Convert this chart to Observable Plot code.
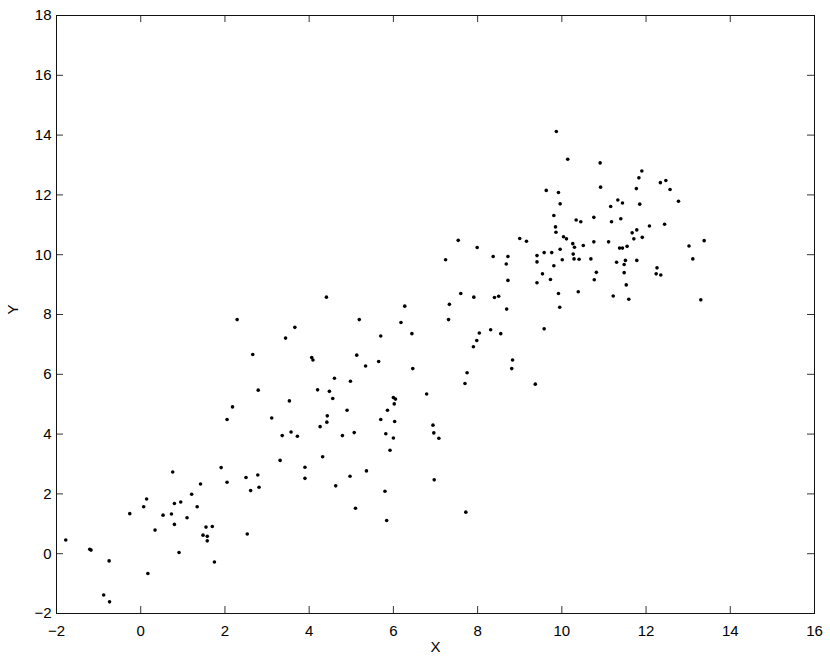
<!DOCTYPE html>
<html>
<head>
<meta charset="utf-8">
<script src="https://cdn.jsdelivr.net/npm/d3@7"></script>
<script src="https://cdn.jsdelivr.net/npm/@observablehq/plot@0.6"></script>
<style>
  html, body { margin: 0; padding: 0; background: #fff; }
  #chart svg { display: block; }
</style>
</head>
<body>
<div id="chart"></div>
<script>
// Data
const xs = [
  -1.78, -1.21, -1.18, -0.75, -0.88, -0.74, -0.26, 0.17, 0.07, 0.14,
  0.34, 0.53, 0.73, 0.76, 0.80, 0.80, 0.95, 0.91, 1.10, 1.21,
  1.34, 1.42, 1.55, 1.58, 1.48, 1.58, 1.70, 1.75, 1.91, 2.05,
  2.50, 2.53, 2.61,
  2.29, 3.66, 3.44, 5.19, 6.27, 6.18, 5.70, 2.66, 4.06, 4.09,
  5.13, 5.34, 5.65, 2.79, 4.60, 4.98, 4.20, 4.48, 4.56, 3.53,
  2.18, 2.05, 3.11, 4.90, 4.43, 4.42, 4.26, 6.00, 6.05, 6.02,
  5.86, 5.70, 6.03, 5.82, 6.00, 5.92, 3.36, 3.57, 3.72, 4.79,
  5.07, 4.32, 3.31, 3.90, 3.90, 2.78, 2.81, 4.97, 5.36, 4.63,
  5.80, 5.10, 5.84, 4.41,
  7.54, 7.99, 7.24, 8.37, 8.72, 8.68, 8.72, 9.00, 9.16, 9.41,
  9.41, 9.41, 9.58, 9.76, 9.54, 9.73, 9.81, 10.01, 9.96, 9.85,
  9.86, 10.04, 10.11, 10.26, 10.30, 10.27, 10.29, 10.41, 9.92, 9.95,
  10.39, 7.33, 7.31, 7.60, 7.91, 8.40, 8.50, 8.69, 9.58, 6.44,
  8.04, 8.31, 8.55, 7.98, 7.90, 8.83, 8.81, 6.46, 7.75, 7.70,
  9.37, 6.79, 6.94, 6.96, 7.08, 6.97, 7.72,
  9.87, 10.14, 10.91, 11.90, 11.83, 12.34, 12.47, 12.57, 12.77, 11.77,
  10.92, 9.63, 9.92, 9.96, 11.33, 11.44, 11.16, 11.85, 9.81, 10.34,
  10.45, 10.76, 11.18, 11.40, 12.08, 12.44, 11.78, 11.67, 11.91, 11.71,
  10.76, 11.11, 10.51, 10.69, 11.37, 11.44, 11.55, 13.02, 11.30, 11.51,
  11.48, 11.78, 10.82, 10.77, 11.48, 12.26, 12.24, 12.35, 11.53, 11.22,
  11.59, 13.38, 13.11, 13.30
];
const ys = [
  0.46, 0.15, 0.12, -0.24, -1.38, -1.61, 1.34, -0.66, 1.57, 1.83,
  0.79, 1.29, 1.33, 2.73, 1.68, 0.98, 1.73, 0.04, 1.20, 1.99,
  1.57, 2.33, 0.89, 0.58, 0.62, 0.43, 0.91, -0.28, 2.88, 2.39,
  2.55, 0.66, 2.11,
  7.83, 7.57, 7.21, 7.83, 8.28, 7.73, 7.28, 6.66, 6.56, 6.48,
  6.64, 6.28, 6.43, 5.47, 5.87, 5.77, 5.48, 5.43, 5.19, 5.11,
  4.91, 4.49, 4.54, 4.80, 4.61, 4.40, 4.25, 5.22, 5.17, 5.01,
  4.80, 4.49, 4.42, 4.01, 3.87, 3.46, 3.95, 4.07, 3.93, 3.95,
  4.05, 3.24, 3.12, 2.89, 2.52, 2.63, 2.22, 2.59, 2.77, 2.27,
  2.09, 1.52, 1.11, 8.58,
  10.48, 10.24, 9.83, 9.94, 9.94, 9.69, 9.14, 10.54, 10.45, 9.97,
  9.76, 9.06, 10.07, 10.07, 9.36, 9.17, 9.63, 9.83, 10.18, 10.93,
  10.75, 10.60, 10.53, 10.37, 10.25, 10.02, 9.86, 9.85, 8.70, 8.24,
  8.76, 8.34, 7.83, 8.70, 8.58, 8.57, 8.61, 8.18, 7.52, 7.36,
  7.38, 7.49, 7.36, 7.13, 6.92, 6.48, 6.19, 6.19, 6.05, 5.69,
  5.67, 5.34, 4.30, 4.04, 3.86, 2.47, 1.39,
  14.12, 13.19, 13.07, 12.80, 12.57, 12.41, 12.48, 12.18, 11.79, 12.21,
  12.26, 12.15, 12.08, 11.70, 11.83, 11.73, 11.61, 11.69, 11.31, 11.16,
  11.10, 11.25, 11.10, 11.20, 10.96, 11.02, 10.83, 10.73, 10.58, 10.53,
  10.43, 10.43, 10.31, 9.86, 10.22, 10.22, 10.28, 10.29, 9.75, 9.81,
  9.67, 9.81, 9.41, 9.16, 9.40, 9.56, 9.36, 9.32, 8.99, 8.62,
  8.51, 10.47, 9.86, 8.49
];
const xTicks = [-2, 0, 2, 4, 6, 8, 10, 12, 14, 16];
const yTicks = [-2, 0, 2, 4, 6, 8, 10, 12, 14, 16, 18];
const xLabel = "X";
const yLabel = "Y";

const points = xs.map((x, i) => ({x, y: ys[i]}));

const W = 830, H = 662;
const mL = 56, mR = 16, mT = 15, mB = 49;
const plotW = W - mL - mR, plotH = H - mT - mB;
const tickLen = 7;
const tickColor = "#333";

const chart = Plot.plot({
  width: W,
  height: H,
  marginLeft: mL,
  marginRight: mR,
  marginTop: mT,
  marginBottom: mB,
  style: {fontFamily: "'Liberation Sans', Arial, Helvetica, sans-serif", fontSize: "15px", color: "#000", background: "#fff"},
  x: {domain: [-2, 16], nice: false},
  y: {domain: [-2, 18], nice: false},
  marks: [
    Plot.axisX({ticks: xTicks, tickSize: 0, tickPadding: 12, label: null, fontSize: 15}),
    Plot.axisY({ticks: yTicks, tickSize: 0, tickPadding: 5, label: null, fontSize: 15}),
    // inward ticks on all four sides
    Plot.ruleX(xTicks, {x: d => d, insetTop: plotH - tickLen, stroke: tickColor}),
    Plot.ruleX(xTicks, {x: d => d, insetBottom: plotH - tickLen, stroke: tickColor}),
    Plot.ruleY(yTicks, {y: d => d, insetRight: plotW - tickLen, stroke: tickColor}),
    Plot.ruleY(yTicks, {y: d => d, insetLeft: plotW - tickLen, stroke: tickColor}),
    Plot.frame({stroke: "#111"}),
    Plot.dot(points, {x: "x", y: "y", r: 1.8, fill: "#000", stroke: null}),
    Plot.text([xLabel], {frameAnchor: "bottom", dy: 38, text: d => d, fontSize: 15, fill: "#000"}),
    Plot.text([yLabel], {frameAnchor: "left", dx: -43, rotate: -90, text: d => d, fontSize: 15, fill: "#000"})
  ]
});
document.getElementById("chart").appendChild(chart);
</script>
</body>
</html>
